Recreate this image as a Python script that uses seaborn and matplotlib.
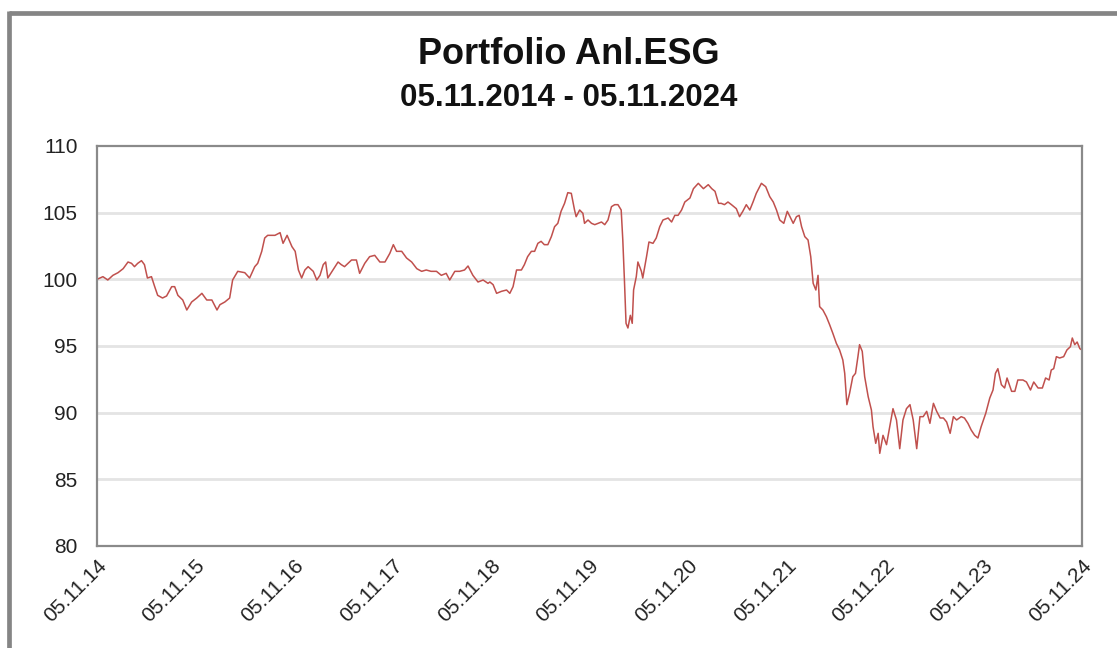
import matplotlib
matplotlib.use("Agg")
import matplotlib.pyplot as plt
import matplotlib.dates as mdates
from matplotlib.lines import Line2D
import seaborn as sns
import pandas as pd

title = "Portfolio Anl.ESG"
subtitle = "05.11.2014 - 05.11.2024"

dates = [
    "2014-11-05", "2014-11-27", "2014-12-15", "2015-01-03", "2015-01-22", "2015-02-10", "2015-02-28",
    "2015-03-13", "2015-03-24", "2015-04-05", "2015-04-19", "2015-04-30", "2015-05-11", "2015-05-26",
    "2015-06-07", "2015-06-18", "2015-07-06", "2015-07-21", "2015-08-09", "2015-08-20", "2015-09-01",
    "2015-09-19", "2015-10-04", "2015-10-22", "2015-11-10", "2015-11-29", "2015-12-17", "2016-01-05",
    "2016-01-24", "2016-02-04", "2016-02-22", "2016-03-11", "2016-03-22", "2016-04-10", "2016-05-06",
    "2016-05-24", "2016-06-12", "2016-06-23", "2016-07-08", "2016-07-19", "2016-07-30", "2016-08-26",
    "2016-09-14", "2016-09-25", "2016-10-10", "2016-10-28",
    "2016-11-09", "2016-11-21", "2016-12-03", "2016-12-15", "2016-12-27", "2017-01-15", "2017-01-28",
    "2017-02-09", "2017-02-21", "2017-03-02", "2017-03-10", "2017-03-29", "2017-04-17", "2017-04-29",
    "2017-05-11", "2017-05-24", "2017-06-06", "2017-06-24", "2017-07-06", "2017-07-25", "2017-08-12",
    "2017-08-31", "2017-09-19", "2017-10-08", "2017-10-26", "2017-11-08", "2017-11-20", "2017-12-09",
    "2017-12-27", "2018-01-15", "2018-02-03", "2018-02-21", "2018-03-10", "2018-03-28", "2018-04-17",
    "2018-05-05", "2018-05-23", "2018-06-05", "2018-06-24", "2018-07-12", "2018-07-30", "2018-08-12",
    "2018-08-30", "2018-09-18", "2018-10-07", "2018-10-25",
    "2018-11-01", "2018-11-13", "2018-11-26", "2018-12-14", "2019-01-02", "2019-01-14", "2019-01-26",
    "2019-02-08", "2019-02-26", "2019-03-09", "2019-03-21", "2019-04-04", "2019-04-16", "2019-04-28",
    "2019-05-10", "2019-05-22", "2019-06-04", "2019-06-17", "2019-06-29", "2019-07-11", "2019-07-23",
    "2019-08-05", "2019-08-17", "2019-08-30", "2019-09-11", "2019-09-17", "2019-09-30", "2019-10-12",
    "2019-10-18", "2019-10-31", "2019-11-13", "2019-11-25", "2019-12-07", "2019-12-20", "2020-01-01",
    "2020-01-13", "2020-01-26", "2020-02-07", "2020-02-19", "2020-03-02", "2020-03-08", "2020-03-14",
    "2020-03-20", "2020-03-27", "2020-04-05", "2020-04-12", "2020-04-17", "2020-04-27", "2020-05-03",
    "2020-05-16", "2020-05-21", "2020-06-04", "2020-06-13", "2020-06-28", "2020-07-10", "2020-07-23",
    "2020-08-04", "2020-08-23", "2020-09-05", "2020-09-17", "2020-09-29", "2020-10-12", "2020-10-24",
    "2020-11-12",
    "2020-11-25", "2020-12-13", "2021-01-01", "2021-01-19", "2021-02-01", "2021-02-13", "2021-02-26",
    "2021-03-08", "2021-03-20", "2021-04-02", "2021-04-15", "2021-05-03", "2021-05-15", "2021-05-27",
    "2021-06-09", "2021-06-22", "2021-07-04", "2021-07-16", "2021-08-04", "2021-08-20", "2021-09-04",
    "2021-09-17", "2021-09-29", "2021-10-11", "2021-10-26", "2021-11-08", "2021-11-18", "2021-11-30",
    "2021-12-12", "2021-12-22", "2021-12-31", "2022-01-12", "2022-01-24", "2022-02-03", "2022-02-12",
    "2022-02-22", "2022-03-02", "2022-03-08", "2022-03-20", "2022-04-02", "2022-04-14", "2022-04-26",
    "2022-05-09", "2022-05-21", "2022-06-02", "2022-06-09", "2022-06-17", "2022-06-27", "2022-07-09",
    "2022-07-19", "2022-07-28", "2022-08-03", "2022-08-13", "2022-08-22", "2022-09-04", "2022-09-16",
    "2022-09-22", "2022-10-02", "2022-10-11",
    "2022-10-17", "2022-10-29", "2022-11-11", "2022-11-23", "2022-12-05", "2022-12-18", "2022-12-30",
    "2023-01-11", "2023-01-24", "2023-02-06", "2023-02-18", "2023-03-03", "2023-03-15", "2023-03-27",
    "2023-04-09", "2023-04-21", "2023-05-04", "2023-05-16", "2023-05-29", "2023-06-10", "2023-06-22",
    "2023-07-05", "2023-07-17", "2023-07-29", "2023-08-15", "2023-08-27", "2023-09-09", "2023-09-21",
    "2023-10-04", "2023-10-16", "2023-10-28", "2023-11-14", "2023-11-29", "2023-12-11", "2023-12-20",
    "2023-12-29", "2024-01-11", "2024-01-23", "2024-02-01", "2024-02-18", "2024-03-01", "2024-03-12",
    "2024-03-31", "2024-04-13", "2024-04-28", "2024-05-10", "2024-05-26", "2024-06-11", "2024-06-23",
    "2024-07-06", "2024-07-14", "2024-07-23", "2024-08-02", "2024-08-14", "2024-08-29", "2024-09-10",
    "2024-09-23", "2024-09-30", "2024-10-09", "2024-10-18", "2024-10-28", "2024-11-05",
]

values = [
    100.0, 100.2, 99.95, 100.3, 100.5, 100.8, 101.3,
    101.2, 100.95, 101.2, 101.4, 101.1, 100.1, 100.2,
    99.45, 98.8, 98.6, 98.75, 99.45, 99.45, 98.8,
    98.45, 97.7, 98.3, 98.6, 98.95, 98.45, 98.45,
    97.7, 98.1, 98.3, 98.6, 99.95, 100.6, 100.5,
    100.1, 100.95, 101.2, 102.1, 103.1, 103.3, 103.3,
    103.5, 102.7, 103.3, 102.45,
    102.1, 100.7, 100.1, 100.7, 100.95, 100.6, 99.95,
    100.3, 101.1, 101.3, 100.1, 100.7, 101.3, 101.1,
    100.95, 101.2, 101.45, 101.45, 100.45, 101.2, 101.7,
    101.8, 101.3, 101.3, 101.95, 102.6, 102.1, 102.1,
    101.6, 101.3, 100.8, 100.6, 100.7, 100.6, 100.6,
    100.3, 100.45, 99.95, 100.6, 100.6, 100.7, 101.0,
    100.3, 99.8, 99.95, 99.7,
    99.8, 99.6, 98.95, 99.1, 99.2, 98.95, 99.45,
    100.7, 100.7, 101.1, 101.7, 102.1, 102.1, 102.7,
    102.85, 102.6, 102.6, 103.2, 103.95, 104.2, 105.1,
    105.7, 106.5, 106.45, 105.2, 104.7, 105.2, 104.95,
    104.2, 104.45, 104.2, 104.1, 104.2, 104.3, 104.1,
    104.45, 105.45, 105.6, 105.6, 105.2, 102.95, 99.95,
    96.7, 96.35, 97.3, 96.7, 99.2, 100.2, 101.3,
    100.6, 100.1, 101.7, 102.8, 102.7, 103.1, 103.95,
    104.45, 104.6, 104.3, 104.8, 104.8, 105.2, 105.8,
    106.1,
    106.8, 107.2, 106.8, 107.1, 106.8, 106.6, 105.7,
    105.7, 105.6, 105.8, 105.6, 105.3, 104.7, 105.1,
    105.6, 105.2, 105.8, 106.45, 107.2, 106.95, 106.2,
    105.8, 105.2, 104.45, 104.2, 105.1, 104.7, 104.2,
    104.7, 104.8, 103.95, 103.2, 102.95, 101.7, 99.7,
    99.2, 100.3, 97.95, 97.7, 97.2, 96.6, 95.95,
    95.2, 94.7, 93.95, 92.95, 90.6, 91.45, 92.7,
    92.95, 94.2, 95.1, 94.6, 92.7, 91.2, 90.2,
    88.95, 87.7, 88.45,
    86.95, 88.3, 87.6, 88.95, 90.3, 89.45, 87.3,
    89.45, 90.3, 90.6, 89.45, 87.3, 89.7, 89.7,
    90.1, 89.2, 90.7, 90.1, 89.6, 89.6, 89.3,
    88.45, 89.7, 89.45, 89.7, 89.6, 89.2, 88.7,
    88.3, 88.1, 88.95, 89.95, 91.1, 91.7, 92.95,
    93.3, 92.1, 91.85, 92.6, 91.6, 91.6, 92.45,
    92.45, 92.3, 91.7, 92.3, 91.85, 91.85, 92.6,
    92.45, 93.2, 93.3, 94.2, 94.1, 94.2, 94.7,
    94.95, 95.6, 95.1, 95.3, 94.8, 94.7,
]

tick_dates = ["2014-11-05", "2015-11-05", "2016-11-05", "2017-11-05", "2018-11-05",
              "2019-11-05", "2020-11-05", "2021-11-05", "2022-11-05", "2023-11-05",
              "2024-11-05"]
y_ticks = [80, 85, 90, 95, 100, 105, 110]

df = pd.DataFrame({"date": pd.to_datetime(dates), "value": values})

sns.set_style("white")
plt.rcParams["font.family"] = ["Liberation Sans", "DejaVu Sans"]

W, H = 1117, 648
fig = plt.figure(figsize=(W / 100, H / 100), dpi=100)
ax = fig.add_axes([97 / W, 1 - 546 / H, (1082 - 97) / W, (546 - 146) / H])

sns.lineplot(data=df, x="date", y="value", ax=ax, color="#c0504d", linewidth=1.1)

ax.set_xlim(pd.Timestamp(tick_dates[0]), pd.Timestamp(tick_dates[-1]))
ax.set_ylim(80, 110)
ax.set_yticks(y_ticks)
ax.set_xticks(pd.to_datetime(tick_dates))
ax.xaxis.set_major_formatter(mdates.DateFormatter("%d.%m.%y"))
ax.set_xlabel("")
ax.set_ylabel("")

for y in y_ticks[1:-1]:
    ax.axhline(y, color="#e4e4e4", linewidth=2, zorder=0)

spine_col = "#8a8a8a"
for s in ax.spines.values():
    s.set_visible(True)
    s.set_color(spine_col)
    s.set_linewidth(1.6)

ax.tick_params(axis="both", which="major", direction="out", length=5, width=1.4,
               color=spine_col, labelsize=15, labelcolor="#222222")
ax.tick_params(axis="y", pad=9)
ax.tick_params(axis="x", pad=2)
for lab in ax.get_xticklabels():
    lab.set_rotation(45)
    lab.set_ha("right")
    lab.set_va("top")
    lab.set_rotation_mode("anchor")

fig.text(569 / W, 1 - 55 / H, title, ha="center", va="center",
         fontsize=26, fontweight="bold", color="#111111")
fig.text(569 / W, 1 - 98 / H, subtitle, ha="center", va="center",
         fontsize=22.5, fontweight="bold", color="#111111")

frame_col = "#858585"
fig.add_artist(Line2D([9.5 / W, 1.0], [1 - 12.5 / H, 1 - 12.5 / H],
                      transform=fig.transFigure, color=frame_col, linewidth=3.4,
                      solid_capstyle="butt"))
fig.add_artist(Line2D([9.5 / W, 9.5 / W], [1 - 10.8 / H, 0.0],
                      transform=fig.transFigure, color=frame_col, linewidth=3.4,
                      solid_capstyle="butt"))

fig.savefig("out.png", dpi=100)
